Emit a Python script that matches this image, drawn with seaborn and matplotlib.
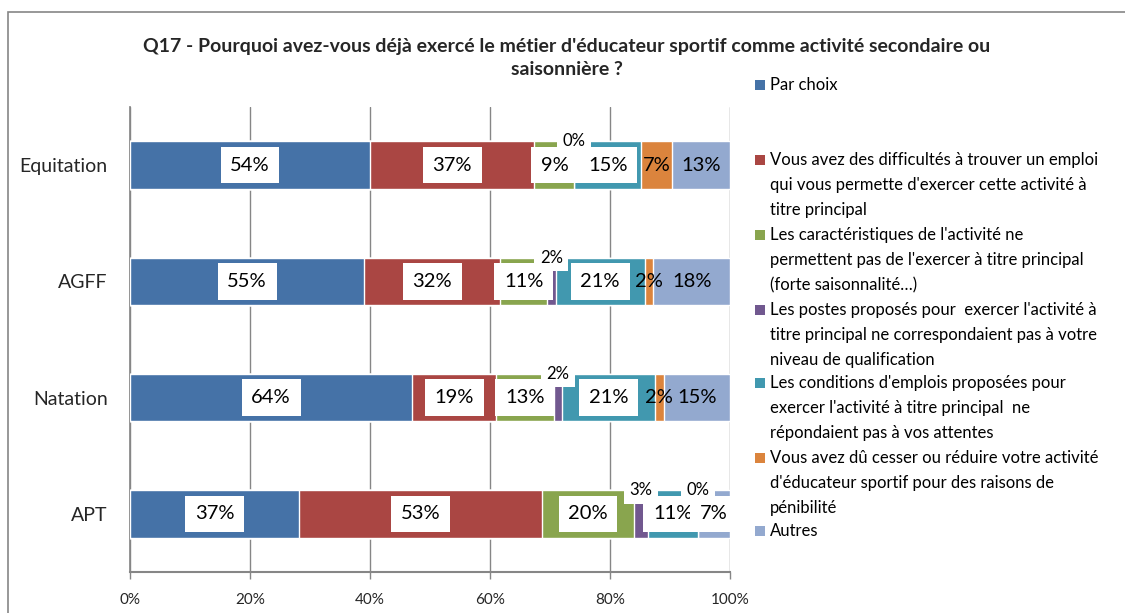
import pandas as pd
import matplotlib
matplotlib.use("Agg")
import matplotlib.pyplot as plt
from matplotlib.patches import Rectangle
import seaborn as sns

# ── Data ───────────────────────────────────────────────────────────────────────
categories = ["Equitation", "AGFF", "Natation", "APT"]

par_choix = [54, 55, 64, 37]
difficultes = [37, 32, 19, 53]
caracteristiques = [9, 11, 13, 20]
postes = [0, 2, 2, 3]
conditions = [15, 21, 21, 11]
penibilite = [7, 2, 2, 0]
autres = [13, 18, 15, 7]

series_labels = [
    "Par choix",
    "Vous avez des difficultés à trouver un emploi\nqui vous permette d'exercer cette activité à\ntitre principal",
    "Les caractéristiques de l'activité ne\npermettent pas de l'exercer à titre principal\n(forte saisonnalité…)",
    "Les postes proposés pour  exercer l'activité à\ntitre principal ne correspondaient pas à votre\nniveau de qualification",
    "Les conditions d'emplois proposées pour\nexercer l'activité à titre principal  ne\nrépondaient pas à vos attentes",
    "Vous avez dû cesser ou réduire votre activité\nd'éducateur sportif pour des raisons de\npénibilité",
    "Autres",
]
series_values = [par_choix, difficultes, caracteristiques, postes,
                 conditions, penibilite, autres]
colors = ["#4572A7", "#AA4643", "#89A54E", "#71588F", "#4198AF", "#DB843D", "#93A9CF"]

title = ("Q17 - Pourquoi avez-vous déjà exercé le métier d'éducateur sportif comme activité secondaire ou\n"
         "saisonnière ?")

# ── Build 100% stacked table ───────────────────────────────────────────────────
raw = pd.DataFrame(dict(zip(range(len(series_values)), series_values)), index=categories)
share = raw.div(raw.sum(axis=1), axis=0) * 100
cum_end = share.cumsum(axis=1)
cum_start = cum_end - share

sns.set_theme(style="white")
plt.rcParams["font.family"] = ["Lato", "DejaVu Sans"]

W, H = 1125, 613
fig = plt.figure(figsize=(W / 100, H / 100), dpi=100)
ax = fig.add_axes([130 / W, 1 - 572 / H, 600 / W, (572 - 107) / H])

bar_h = 0.41
# draw from the last series back so each bar covers the tail of the previous
for j in reversed(range(len(series_values))):
    d = pd.DataFrame({"cat": categories, "end": cum_end[j].values})
    sns.barplot(data=d, x="end", y="cat", orient="h", color=colors[j],
                width=bar_h, saturation=1, ax=ax, zorder=3)

# data labels
for j in range(len(series_values)):
    for i, cat in enumerate(categories):
        v = raw.loc[cat, j]
        xc = cum_start.loc[cat, j] + share.loc[cat, j] / 2
        above = (j == 3) or v == 0
        yc = i - bar_h / 2 if above else i
        fs = 12 if above else 14.5
        boxed = above or j <= 4 or (cat == "APT" and j == 6)
        bbox = dict(facecolor="white", edgecolor="none", pad=4 if above else 7) if boxed else None
        ax.text(xc, yc, f"{v}%", ha="center", va="center", fontsize=fs,
                color="black", bbox=bbox, zorder=5)

ax.set_xlim(0, 100)
ax.set_ylim(3.5, -0.5)
ax.set_xticks(range(0, 101, 20))
ax.set_xticklabels([f"{t}%" for t in range(0, 101, 20)], fontsize=11)
ax.set_yticks(range(len(categories)))
ax.set_yticklabels(categories, fontsize=14)
ax.set_yticks([k - 0.5 for k in range(len(categories) + 1)], minor=True)
ax.tick_params(axis="y", which="major", length=0, pad=16)
ax.tick_params(axis="y", which="minor", length=5, color="#868686", width=1, direction="out")
ax.tick_params(axis="x", length=5, color="#868686", width=1, direction="out", pad=10, bottom=True)
ax.set_xlabel("")
ax.set_ylabel("")

ax.grid(axis="x", color="#868686", linewidth=1, zorder=0)
ax.grid(axis="y", visible=False)
ax.set_axisbelow(True)
for s in ["top", "right"]:
    ax.spines[s].set_visible(False)
ax.spines["left"].set_color("#868686")
ax.spines["bottom"].set_color("#868686")
ax.spines["bottom"].set_linewidth(1.5)

# outer chart border
fig.patches.append(Rectangle((8 / W, -0.05), 1.2, 1 - 12 / H + 0.05, transform=fig.transFigure,
                             fill=False, edgecolor="#868686", linewidth=1.2))

# title
fig.text(567 / W, 1 - 58 / H, title, ha="center", va="center", fontsize=14,
         fontweight="bold", linespacing=1.45)

# legend drawn by hand to keep the Excel spacing
first_line_y = [85, 160, 235, 310, 383, 458, 531]
for lab, col, y0 in zip(series_labels, colors, first_line_y):
    fig.patches.append(Rectangle((755 / W, 1 - (y0 + 5) / H), 10 / W, 10 / H,
                                 transform=fig.transFigure, facecolor=col, edgecolor="none"))
    for k, line in enumerate(lab.split("\n")):
        fig.text(770 / W, 1 - (y0 + 25 * k) / H, line, ha="left", va="center",
                 fontsize=12, color="black")

fig.savefig("out.png", dpi=100)
